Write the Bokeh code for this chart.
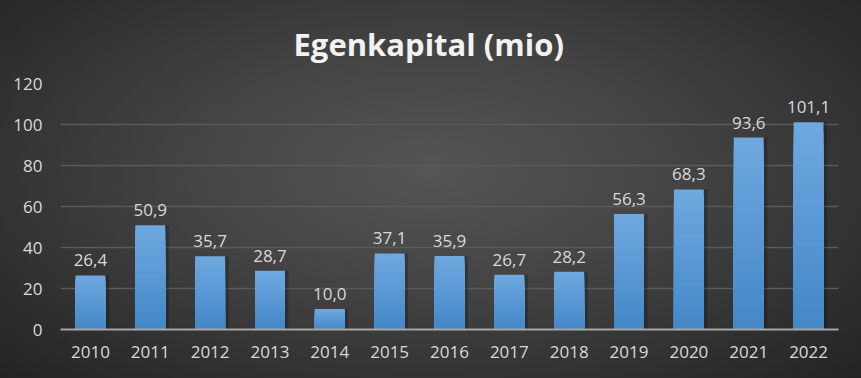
from bokeh.plotting import figure
from bokeh.models import ColumnDataSource, LabelSet, FixedTicker
from bokeh.core.properties import value
from bokeh.transform import dodge
from bokeh.embed import file_html
from bokeh.resources import INLINE

years = ["2010", "2011", "2012", "2013", "2014", "2015", "2016",
         "2017", "2018", "2019", "2020", "2021", "2022"]
values = [26.4, 50.9, 35.7, 28.7, 10.0, 37.1, 35.9,
          26.7, 28.2, 56.3, 68.3, 93.6, 101.1]
y_ticks = [0, 20, 40, 60, 80, 100, 120]
title_text = "Egenkapital (mio)"

labels = [f"{v:.1f}".replace(".", ",") for v in values]
src = ColumnDataSource(data=dict(year=years, value=values, label=labels))

p = figure(x_range=years, y_range=(0, 120), width=861, height=378,
           output_backend="svg", toolbar_location=None,
           min_border_left=60, min_border_right=23,
           min_border_top=83, min_border_bottom=49)
p.styles = {"background": "radial-gradient(ellipse at 50% 45%, #555555 0%, #444444 40%, #2b2b2b 85%, #232323 100%)"}
p.background_fill_color = None
p.border_fill_color = None
p.outline_line_color = None

# soft shadow to the right of each bar
p.vbar(x=dodge("year", 0.06, range=p.x_range), top="value", width=0.5,
       source=src, fill_color="black", fill_alpha=0.22, line_color=None)

# vertical gradient fill (light top -> darker bottom), scaled per bar
steps = 20
top_rgb = (0x6e, 0xa8, 0xdf)
bot_rgb = (0x44, 0x88, 0xc8)
for k in range(steps):
    f = 1 - k / steps
    t = k / (steps - 1)
    rgb = tuple(int(round(a + (b - a) * t)) for a, b in zip(top_rgb, bot_rgb))
    col = "#%02x%02x%02x" % rgb
    src.data[f"top{k}"] = [v * f for v in values]
    p.vbar(x="year", top=f"top{k}", width=0.5, source=src,
           fill_color=col, line_color=None)

ls = LabelSet(x="year", y="value", text="label", source=src,
              text_align="center", text_baseline="bottom", y_offset=9,
              text_font=value("Open Sans"), text_font_size="17px",
              text_color="#d9d9d9")
p.add_layout(ls)

p.title.text = title_text
p.title.align = "left"
p.title.text_font = "Open Sans"
p.title.text_font_style = "bold"
p.title.text_font_size = "31px"
p.title.text_color = "#f2f2f2"
p.title.offset = 233
p.title.standoff = 38

p.yaxis.ticker = FixedTicker(ticks=y_ticks)
p.yaxis.axis_line_color = None
p.yaxis.major_tick_line_color = None
p.yaxis.minor_tick_line_color = None
p.yaxis.major_label_standoff = 12
p.yaxis.major_label_text_font = "Open Sans"
p.yaxis.major_label_text_font_size = "17px"
p.yaxis.major_label_text_color = "#d9d9d9"

p.xaxis.axis_line_color = "#a6a6a6"
p.xaxis.axis_line_width = 2
p.xaxis.major_tick_line_color = None
p.xaxis.minor_tick_line_color = None
p.xaxis.major_label_standoff = 10
p.xaxis.major_label_text_font = "Open Sans"
p.xaxis.major_label_text_font_size = "17px"
p.xaxis.major_label_text_color = "#d9d9d9"

p.xgrid.grid_line_color = None
p.ygrid.grid_line_color = "#5a5a5a"
p.ygrid.grid_line_width = 1.5
p.x_range.range_padding = 0

open("out.html", "w").write(file_html(p, INLINE))
